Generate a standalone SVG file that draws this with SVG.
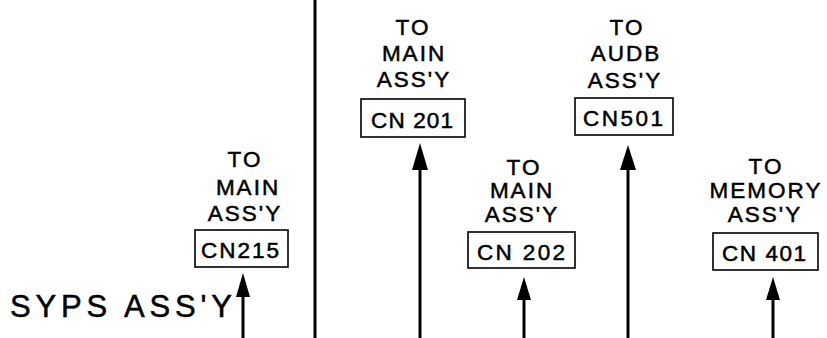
<svg xmlns="http://www.w3.org/2000/svg" width="827" height="338" viewBox="0 0 827 338">
  <style>
    .lbl { font-family: "Liberation Sans", Arial, sans-serif; font-size: 22.5px; fill: #000; stroke: #000; stroke-width: 0.5; text-anchor: middle; letter-spacing: 2px; }
    .big { font-family: "Liberation Sans", Arial, sans-serif; font-size: 31px; fill: #000; stroke: #000; stroke-width: 0.5; }
    .box { fill: none; stroke: #000; stroke-width: 1.6; }
    .wire { stroke: #000; stroke-width: 3; fill: none; }
    .head { fill: #000; }
  </style>
  <rect width="827" height="338" fill="#fff"/>

  <g id="divider">
    <line class="wire" x1="315" y1="0" x2="315" y2="338"/>
  </g>

  <g id="syps">
    <text class="big" x="10" y="317" textLength="222" lengthAdjust="spacing">SYPS ASS'Y</text>
  </g>

  <g id="cn215">
    <text class="lbl" x="245" y="167">TO</text>
    <text class="lbl" x="248" y="195">MAIN</text>
    <text class="lbl" x="245" y="221">ASS'Y</text>
    <rect class="box" x="195" y="230" width="93" height="37"/>
    <text class="lbl" x="241" y="258" textLength="80" lengthAdjust="spacing">CN215</text>
  </g>

  <g id="cn201">
    <text class="lbl" x="413" y="35">TO</text>
    <text class="lbl" x="414" y="61">MAIN</text>
    <text class="lbl" x="414" y="87">ASS'Y</text>
    <rect class="box" x="361" y="99" width="104" height="38"/>
    <text class="lbl" x="413" y="128" textLength="84" lengthAdjust="spacing">CN 201</text>
  </g>

  <g id="cn202">
    <text class="lbl" x="524" y="175">TO</text>
    <text class="lbl" x="522" y="198">MAIN</text>
    <text class="lbl" x="522" y="222">ASS'Y</text>
    <rect class="box" x="468" y="232" width="107" height="36"/>
    <text class="lbl" x="522" y="260" textLength="90" lengthAdjust="spacing">CN 202</text>
  </g>

  <g id="cn501">
    <text class="lbl" x="627" y="35">TO</text>
    <text class="lbl" x="626" y="61">AUDB</text>
    <text class="lbl" x="625" y="88">ASS'Y</text>
    <rect class="box" x="575" y="98" width="98" height="37"/>
    <text class="lbl" x="624" y="126" textLength="82" lengthAdjust="spacing">CN501</text>
  </g>

  <g id="cn401">
    <text class="lbl" x="766" y="174">TO</text>
    <text class="lbl" x="766" y="198">MEMORY</text>
    <text class="lbl" x="765" y="222">ASS'Y</text>
    <rect class="box" x="713" y="233" width="105" height="37"/>
    <text class="lbl" x="765" y="261" textLength="86" lengthAdjust="spacing">CN 401</text>
  </g>

  <g id="connectors">
    <line class="wire" x1="243" y1="292" x2="243" y2="338"/>
    <polygon class="head" points="243,273 236,297 250,297"/>
    <line class="wire" x1="420" y1="165" x2="420" y2="338"/>
    <polygon class="head" points="420,143 412,170 428,170"/>
    <line class="wire" x1="524" y1="295" x2="524" y2="338"/>
    <polygon class="head" points="524,277 517,300 531,300"/>
    <line class="wire" x1="628" y1="165" x2="628" y2="338"/>
    <polygon class="head" points="628,145 620,170 636,170"/>
    <line class="wire" x1="773" y1="295" x2="773" y2="338"/>
    <polygon class="head" points="773,277 766,300 780,300"/>
  </g>
</svg>
